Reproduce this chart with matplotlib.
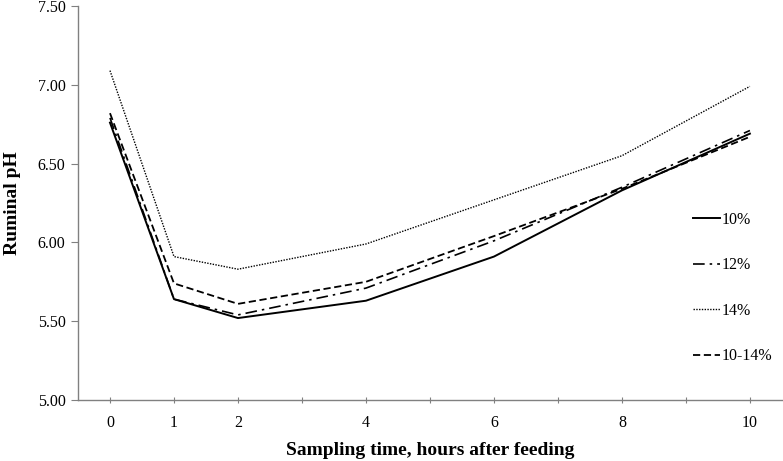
import numpy as np
import matplotlib
matplotlib.use('Agg')
import matplotlib.pyplot as plt

matplotlib.rcParams['font.family'] = ['Liberation Serif', 'DejaVu Serif']
matplotlib.rcParams['font.size'] = 11

hours = [0, 1, 2, 4, 6, 8, 10]
ph_10 = [6.76, 5.64, 5.52, 5.63, 5.91, 6.33, 6.69]
ph_12 = [6.79, 5.64, 5.54, 5.71, 6.01, 6.35, 6.71]
ph_14 = [7.09, 5.91, 5.83, 5.99, 6.27, 6.55, 6.99]
ph_10_14 = [6.82, 5.74, 5.61, 5.75, 6.04, 6.34, 6.67]
series_names = ['10%', '12%', '14%', '10-14%']

fig = plt.figure(figsize=(7.83, 4.61), dpi=100)
ax = fig.add_axes([0.0996, 0.1323, 0.899, 0.8547])

ax.plot(hours, ph_10, color='black', lw=1.4, ls='-', label=series_names[0])
ax.plot(hours, ph_12, color='black', lw=1.2, ls=(0, (7, 3, 1.5, 3)), label=series_names[1])
ax.plot(hours, ph_14, color='black', lw=1.0, ls=(0, (1, 1)), label=series_names[2])
ax.plot(hours, ph_10_14, color='black', lw=1.3, ls=(0, (4, 2)), label=series_names[3])

ax.set_xlim(-0.5, 10.5)
ax.set_ylim(5.0, 7.5)
ax.set_xticks(np.arange(0, 11, 1))
ax.set_xticklabels([str(k) if k in hours else '' for k in range(11)])
ax.set_yticks(np.arange(5.0, 7.51, 0.5))
ax.set_yticklabels(['%.2f' % v for v in np.arange(5.0, 7.51, 0.5)])

for side in ['top', 'right']:
    ax.spines[side].set_visible(False)
for side in ['left', 'bottom']:
    ax.spines[side].set_color('#808080')
    ax.spines[side].set_linewidth(1.0)
ax.tick_params(axis='y', direction='out', length=5, color='#808080', labelsize=11.5, pad=4)
ax.tick_params(axis='x', direction='inout', length=5, color='#808080', labelsize=11.5, pad=8)

ax.set_ylabel('Ruminal pH', fontsize=14, fontweight='bold', labelpad=12)
ax.set_xlabel('Sampling time, hours after feeding', fontsize=14, fontweight='bold', labelpad=8)

ax.legend(loc='center left', bbox_to_anchor=(0.853, 0.284), frameon=False, fontsize=11.5,
          handlelength=1.7, handletextpad=0.1, labelspacing=1.85)

fig.savefig('out.png', dpi=100)
